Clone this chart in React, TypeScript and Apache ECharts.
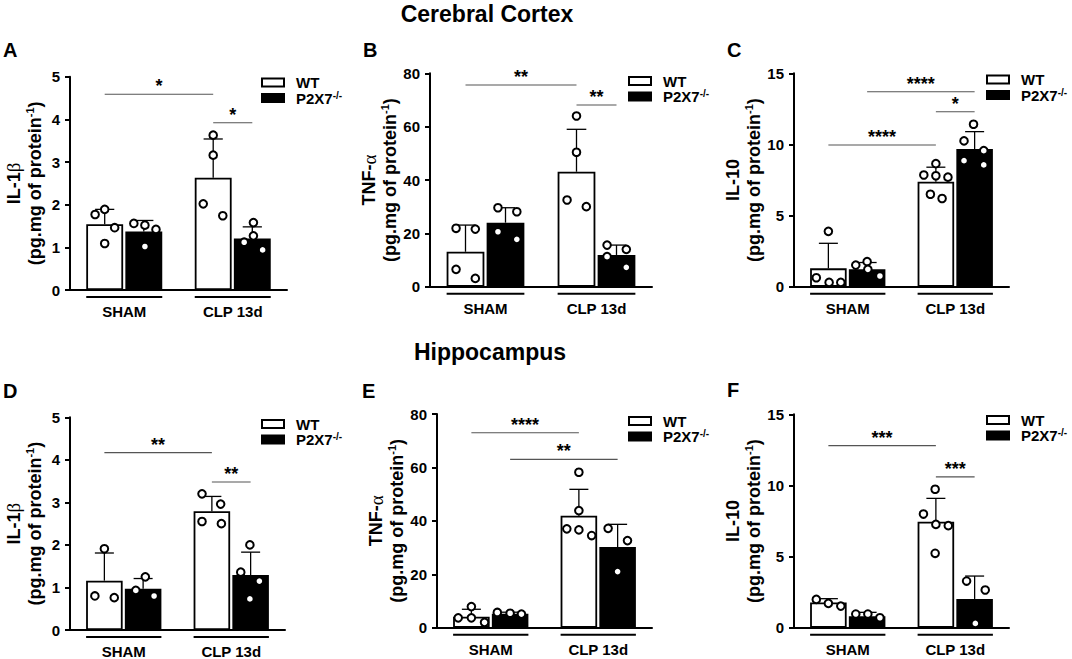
import React, { useEffect, useRef } from "react";
import * as echarts from "echarts";

// ---------- categories / names ----------
const groups = ["SHAM", "CLP 13d"];
const seriesNames = ["WT", "P2X7-/-"];

// ---------- Panel A: Cerebral cortex IL-1β ----------
const aWtMean = [1.54, 2.63];
const aWtSd = [0.35, 0.91];
const aKoMean = [1.37, 1.21];
const aKoSd = [0.26, 0.27];
const aWtSham = [1.77, 1.89, 1.46, 1.09];
const aWtClp = [3.63, 3.16, 2.02, 1.74];
const aKoSham = [1.56, 1.52, 1.42, 1.02];
const aKoClp = [1.58, 1.27, 1.12, 0.94];
const aJitWtSham = [-0.26, 0, 0.27, 0];
const aJitWtClp = [0, 0, -0.27, 0.26];
const aJitKoSham = [-0.27, 0.03, 0.33, 0.03];
const aJitKoClp = [0.03, 0.03, -0.22, 0.28];
const aSig = [[0, 0, 1, 0, 4.59], [1, 0, 1, 1, 3.92]];
const aSigLabels = ["*", "*"];

// ---------- Panel B: Cerebral cortex TNF-α ----------
const bWtMean = [13.1, 43.1];
const bWtSd = [10.0, 15.9];
const bKoMean = [24.0, 11.9];
const bKoSd = [5.6, 3.7];
const bWtSham = [21.9, 21.6, 6.5, 3.1];
const bWtClp = [64, 50.4, 32.5, 30];
const bKoSham = [29.6, 28.1, 20.6, 17.75];
const bKoClp = [15.6, 14, 11.25, 7.25];
const bJitWtSham = [-0.25, 0.26, -0.25, 0.26];
const bJitWtClp = [0, 0, -0.25, 0.26];
const bJitKoSham = [-0.2, 0.3, -0.2, 0.3];
const bJitKoClp = [-0.25, 0.26, -0.25, 0.26];
const bSig = [[0, 0, 1, 0, 75.6], [1, 0, 1, 1, 68.1]];
const bSigLabels = ["**", "**"];

// ---------- Panel C: Cerebral cortex IL-10 ----------
const cWtMean = [1.29, 7.38];
const cWtSd = [1.76, 1.02];
const cKoMean = [1.22, 9.68];
const cKoSd = [0.48, 1.22];
const cWtSham = [3.89, 0.63, 0.3, 0.3];
const cWtClp = [8.65, 7.85, 7.8, 7.7, 6.5, 6.2];
const cKoSham = [1.52, 1.76, 1.22, 0.75];
const cKoClp = [11.42, 10.25, 9.56, 8.86, 8.56];
const cJitWtSham = [0, -0.33, 0.02, 0.34];
const cJitWtClp = [0, -0.33, 0, 0.33, -0.15, 0.17];
const cJitKoSham = [-0.31, 0, 0.02, 0.35];
const cJitKoClp = [-0.03, -0.29, 0.25, -0.29, 0.25];
const cSig = [[0, 1, 1, 1, 13.7], [1, 0, 1, 1, 12.3], [0, 0, 1, 0, 9.96]];
const cSigLabels = ["****", "*", "****"];

// ---------- Panel D: Hippocampus IL-1β ----------
const dWtMean = [1.16, 2.79];
const dWtSd = [0.65, 0.35];
const dKoMean = [0.97, 1.29];
const dKoSd = [0.24, 0.54];
const dWtSham = [1.91, 0.8, 0.76];
const dWtClp = [3.2, 2.96, 2.55, 2.5];
const dKoSham = [1.25, 0.93, 0.8];
const dKoClp = [2.0, 1.36, 1.15, 0.73];
const dJitWtSham = [0, -0.26, 0.27];
const dJitWtClp = [-0.27, 0.24, -0.27, 0.26];
const dJitKoSham = [0.06, -0.2, 0.3];
const dJitKoClp = [-0.02, -0.27, 0.24, -0.02];
const dSig = [[0, 0, 1, 0, 4.17], [1, 0, 1, 1, 3.48]];
const dSigLabels = ["**", "**"];

// ---------- Panel E: Hippocampus TNF-α ----------
const eWtMean = [4.1, 41.9];
const eWtSd = [2.8, 9.9];
const eKoMean = [5.2, 30.2];
const eKoSd = [0.6, 8.5];
const eWtSham = [7.9, 3.7, 3.7, 2.0];
const eWtClp = [58.2, 43.8, 37, 36.6, 34.5];
const eKoSham = [5.7, 5.4, 5.1];
const eKoClp = [37.2, 32.6, 21];
const eJitWtSham = [0, -0.36, 0, 0.36];
const eJitWtClp = [0, 0, -0.33, 0, 0.35];
const eJitKoSham = [-0.35, 0, 0.31];
const eJitKoClp = [-0.26, 0.27, 0];
const eSig = [[0, 0, 1, 0, 73], [0, 1, 1, 1, 63]];
const eSigLabels = ["****", "**"];

// ---------- Panel F: Hippocampus IL-10 ----------
const fWtMean = [1.78, 7.45];
const fWtSd = [0.26, 1.64];
const fKoMean = [0.8, 2.02];
const fKoSd = [0.28, 1.61];
const fWtSham = [1.99, 1.71, 1.52];
const fWtClp = [9.73, 7.99, 7.26, 7.17, 5.23];
const fKoSham = [0.96, 0.96, 0.7];
const fKoClp = [3.28, 2.65, 0.3];
const fJitWtSham = [-0.33, 0, 0.34];
const fJitWtClp = [-0.02, -0.34, 0, 0.34, -0.02];
const fJitKoSham = [-0.31, 0.02, 0.35];
const fJitKoClp = [-0.22, 0.29, 0.02];
const fSig = [[0, 0, 1, 0, 12.8], [1, 0, 1, 1, 10.6]];
const fSigLabels = ["***", "***"];

// ---------- axis scales / labels ----------
const yMaxes = [5, 80, 15, 5, 80, 15];
const yIntervals = [1, 20, 5, 1, 20, 5];
const panelLetters = ["A", "B", "C", "D", "E", "F"];
const sectionTitles = ["Cerebral Cortex", "Hippocampus"];
const unitLine = "{m|(pg.mg of protein}{s|-1}{m|)}";
const yNames = [
  "{m|IL-1}{g|β}\n" + unitLine,
  "{m|TNF-}{g|α}\n" + unitLine,
  "{m|IL-10}\n" + unitLine,
  "{m|IL-1}{g|β}\n" + unitLine,
  "{m|TNF-}{g|α}\n" + unitLine,
  "{m|IL-10}\n" + unitLine,
];

const panelsData = [
  { wtMean: aWtMean, wtSd: aWtSd, koMean: aKoMean, koSd: aKoSd, pts: [[aWtSham, aWtClp], [aKoSham, aKoClp]], jit: [[aJitWtSham, aJitWtClp], [aJitKoSham, aJitKoClp]], sig: aSig, sigLabels: aSigLabels },
  { wtMean: bWtMean, wtSd: bWtSd, koMean: bKoMean, koSd: bKoSd, pts: [[bWtSham, bWtClp], [bKoSham, bKoClp]], jit: [[bJitWtSham, bJitWtClp], [bJitKoSham, bJitKoClp]], sig: bSig, sigLabels: bSigLabels },
  { wtMean: cWtMean, wtSd: cWtSd, koMean: cKoMean, koSd: cKoSd, pts: [[cWtSham, cWtClp], [cKoSham, cKoClp]], jit: [[cJitWtSham, cJitWtClp], [cJitKoSham, cJitKoClp]], sig: cSig, sigLabels: cSigLabels },
  { wtMean: dWtMean, wtSd: dWtSd, koMean: dKoMean, koSd: dKoSd, pts: [[dWtSham, dWtClp], [dKoSham, dKoClp]], jit: [[dJitWtSham, dJitWtClp], [dJitKoSham, dJitKoClp]], sig: dSig, sigLabels: dSigLabels },
  { wtMean: eWtMean, wtSd: eWtSd, koMean: eKoMean, koSd: eKoSd, pts: [[eWtSham, eWtClp], [eKoSham, eKoClp]], jit: [[eJitWtSham, eJitWtClp], [eJitKoSham, eJitKoClp]], sig: eSig, sigLabels: eSigLabels },
  { wtMean: fWtMean, wtSd: fWtSd, koMean: fKoMean, koSd: fKoSd, pts: [[fWtSham, fWtClp], [fKoSham, fKoClp]], jit: [[fJitWtSham, fJitWtClp], [fJitKoSham, fJitKoClp]], sig: fSig, sigLabels: fSigLabels },
];

// ---------- layout (pixels) ----------
const gridBoxes = [
  { left: 70, top: 76.7, width: 217, height: 213.3 },
  { left: 430, top: 73.3, width: 222, height: 213.4 },
  { left: 794, top: 73.3, width: 215, height: 213.4 },
  { left: 70, top: 417.3, width: 215, height: 213.4 },
  { left: 437, top: 414, width: 215, height: 213.7 },
  { left: 794, top: 414.3, width: 215, height: 213.4 },
];
const legendPos = [
  { left: 261, top: 75 },
  { left: 628, top: 73.5 },
  { left: 986, top: 72 },
  { left: 261, top: 416.5 },
  { left: 628, top: 413.5 },
  { left: 986, top: 412.5 },
];
const letterPos = [
  [3, 50], [363, 50], [727, 50], [3, 391], [362, 391], [727, 390],
];
const titlePos = [[487, 14], [490, 352]];

const FONT = "Liberation Sans";
const BAR_W = 0.34;
const BAR_GAP = 0.06;

function barOffset(bandW: number, grp: number) {
  const w = bandW * BAR_W;
  const g = w * BAR_GAP;
  return (grp === 0 ? -1 : 1) * (w + g) / 2;
}

function buildOption() {
  const grid: any[] = [];
  const xAxis: any[] = [];
  const yAxis: any[] = [];
  const legend: any[] = [];
  const series: any[] = [];
  const graphic: any[] = [];

  panelsData.forEach((p, i) => {
    grid.push({ ...gridBoxes[i], containLabel: false });
    xAxis.push({
      type: "category",
      gridIndex: i,
      data: groups,
      axisLine: { lineStyle: { color: "#000", width: 2 } },
      axisTick: { show: false },
      axisLabel: { margin: 14, fontSize: 15, fontWeight: "bold", color: "#000", fontFamily: FONT },
      splitLine: { show: false },
    });
    yAxis.push({
      type: "value",
      gridIndex: i,
      min: 0,
      max: yMaxes[i],
      interval: yIntervals[i],
      axisLine: { show: true, lineStyle: { color: "#000", width: 2 } },
      axisTick: { show: true, length: 5, lineStyle: { color: "#000", width: 2 } },
      axisLabel: { margin: 10, fontSize: 15, fontWeight: "bold", color: "#000", fontFamily: FONT },
      splitLine: { show: false },
      name: yNames[i],
      nameLocation: "middle",
      nameRotate: 90,
      nameGap: 25,
      nameTextStyle: {
        rich: {
          m: { fontSize: 18, fontWeight: "bold", fontFamily: FONT, color: "#000", lineHeight: 21 },
          g: { fontSize: 19, fontWeight: "normal", fontFamily: "Liberation Serif", color: "#000", lineHeight: 21 },
          s: { fontSize: 11, fontWeight: "bold", fontFamily: FONT, color: "#000", lineHeight: 12, verticalAlign: "top" },
        },
      },
    });
    legend.push({
      ...legendPos[i],
      orient: "vertical",
      data: seriesNames,
      icon: "rect",
      itemWidth: 22,
      itemHeight: 8,
      itemGap: 0,
      padding: 0,
      selectedMode: false,
      formatter: (name: string) => (name === "WT" ? "{m|WT}" : "{m|P2X7}{s|-/-}"),
      textStyle: {
        padding: [0, 0, 0, 7],
        rich: {
          m: { fontSize: 15, fontWeight: "bold", fontFamily: FONT, color: "#000", lineHeight: 16 },
          s: { fontSize: 10, fontWeight: "bold", fontFamily: FONT, color: "#000", lineHeight: 9, verticalAlign: "top" },
        },
      },
    });

    series.push({
      type: "bar",
      name: seriesNames[0],
      xAxisIndex: i,
      yAxisIndex: i,
      data: p.wtMean,
      barWidth: BAR_W * 100 + "%",
      barGap: BAR_GAP * 100 + "%",
      itemStyle: { color: "#fff", borderColor: "#000", borderWidth: 1.8 },
      z: 2,
    });
    series.push({
      type: "bar",
      name: seriesNames[1],
      xAxisIndex: i,
      yAxisIndex: i,
      data: p.koMean,
      barWidth: BAR_W * 100 + "%",
      barGap: BAR_GAP * 100 + "%",
      itemStyle: { color: "#000", borderColor: "#000", borderWidth: 1.8 },
      z: 2,
    });

    // error bars (mean + SD)
    const errData: number[][] = [];
    [p.wtMean, p.koMean].forEach((means, grp) => {
      const sds = grp === 0 ? p.wtSd : p.koSd;
      means.forEach((m, cat) => errData.push([cat, m, grp, sds[cat]]));
    });
    series.push({
      type: "custom",
      xAxisIndex: i,
      yAxisIndex: i,
      z: 3,
      clip: false,
      encode: { x: 0, y: 1 },
      data: errData,
      renderItem: (_params: any, api: any) => {
        const cat = api.value(0), mean = api.value(1), grp = api.value(2), sd = api.value(3);
        const p0 = api.coord([cat, mean]);
        const p1 = api.coord([cat, mean + sd]);
        const bandW = api.size([1, 0])[0];
        const x = p0[0] + barOffset(bandW, grp);
        const cap = bandW * BAR_W * 0.26;
        const st = { stroke: "#000", lineWidth: 1.3 };
        return {
          type: "group",
          children: [
            { type: "line", shape: { x1: x, y1: p0[1], x2: x, y2: p1[1] }, style: st },
            { type: "line", shape: { x1: x - cap, y1: p1[1], x2: x + cap, y2: p1[1] }, style: st },
          ],
        };
      },
    });

    // individual points
    const dotData: number[][] = [];
    p.pts.forEach((byCat, grp) =>
      byCat.forEach((vals, cat) => vals.forEach((v, k) => dotData.push([cat, v, grp, p.jit[grp][cat][k]])))
    );
    series.push({
      type: "custom",
      xAxisIndex: i,
      yAxisIndex: i,
      z: 4,
      clip: false,
      encode: { x: 0, y: 1 },
      data: dotData,
      renderItem: (_params: any, api: any) => {
        const cat = api.value(0), v = api.value(1), grp = api.value(2), jit = api.value(3);
        const pt = api.coord([cat, v]);
        const bandW = api.size([1, 0])[0];
        const x = pt[0] + barOffset(bandW, grp) + jit * bandW * BAR_W;
        return {
          type: "circle",
          shape: { cx: x, cy: pt[1], r: 3.8 },
          style: { fill: "#fff", stroke: "#000", lineWidth: 2 },
        };
      },
    });

    // significance brackets
    const sigData = p.sig.map((s) => [s[0], s[4], s[1], s[2], s[3]]);
    const labels = p.sigLabels;
    series.push({
      type: "custom",
      xAxisIndex: i,
      yAxisIndex: i,
      z: 3,
      clip: false,
      encode: { x: 0, y: 1 },
      data: sigData,
      renderItem: (params: any, api: any) => {
        const c1 = api.value(0), y = api.value(1), g1 = api.value(2), c2 = api.value(3), g2 = api.value(4);
        const a = api.coord([c1, y]);
        const b = api.coord([c2, y]);
        const bandW = api.size([1, 0])[0];
        const x1 = a[0] + barOffset(bandW, g1);
        const x2 = b[0] + barOffset(bandW, g2);
        return {
          type: "group",
          children: [
            { type: "line", shape: { x1, y1: a[1], x2, y2: a[1] }, style: { stroke: "#555", lineWidth: 1.1 } },
            {
              type: "text",
              style: {
                text: labels[params.dataIndex],
                x: (x1 + x2) / 2,
                y: a[1] + 1,
                align: "center",
                verticalAlign: "bottom",
                fontSize: 18,
                fontWeight: "bold",
                fontFamily: FONT,
                fill: "#000",
              },
            },
          ],
        };
      },
    });

    // group underlines below the x axis
    series.push({
      type: "custom",
      xAxisIndex: i,
      yAxisIndex: i,
      z: 3,
      clip: false,
      encode: { x: 0, y: 1 },
      data: groups.map((_g, cat) => [cat, 0]),
      renderItem: (_params: any, api: any) => {
        const pt = api.coord([api.value(0), 0]);
        const bandW = api.size([1, 0])[0];
        const w = bandW * BAR_W;
        const half = w + (w * BAR_GAP) / 2;
        return {
          type: "line",
          shape: { x1: pt[0] - half, y1: pt[1] + 7, x2: pt[0] + half, y2: pt[1] + 7 },
          style: { stroke: "#000", lineWidth: 2 },
        };
      },
    });

    graphic.push({
      type: "text",
      x: letterPos[i][0],
      y: letterPos[i][1],
      style: {
        text: panelLetters[i],
        fontSize: 20,
        fontWeight: "bold",
        fontFamily: FONT,
        fill: "#000",
        align: "left",
        verticalAlign: "middle",
      },
    });
  });

  sectionTitles.forEach((t, k) => {
    graphic.push({
      type: "text",
      x: titlePos[k][0],
      y: titlePos[k][1],
      style: {
        text: t,
        fontSize: 23,
        fontWeight: "bold",
        fontFamily: FONT,
        fill: "#000",
        align: "center",
        verticalAlign: "middle",
      },
    });
  });

  return {
    animation: false,
    backgroundColor: "#fff",
    textStyle: { fontFamily: FONT },
    grid,
    xAxis,
    yAxis,
    legend,
    series,
    graphic,
  };
}

export default function App() {
  const ref = useRef<HTMLDivElement>(null);
  useEffect(() => {
    if (!ref.current) return;
    const chart = echarts.init(ref.current, undefined, { renderer: "svg" });
    chart.setOption(buildOption() as any);
    return () => chart.dispose();
  }, []);
  return (
    <div
      ref={ref}
      style={{ position: "absolute", left: 0, top: 0, width: 1072, height: 659, background: "#fff" }}
    />
  );
}
